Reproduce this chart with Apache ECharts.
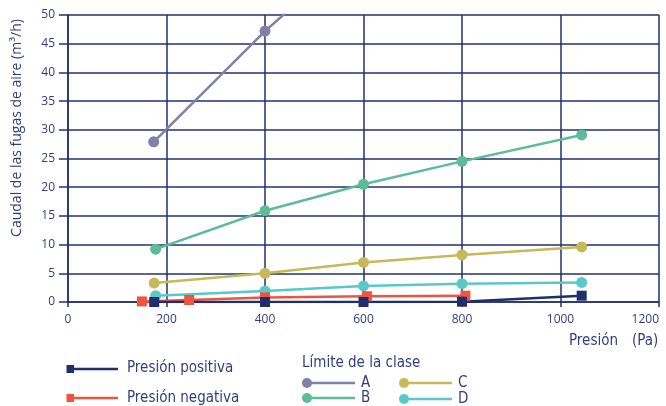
<!DOCTYPE html>
<html>
<head>
<meta charset="utf-8">
<script src="https://cdn.jsdelivr.net/npm/echarts@6/dist/echarts.min.js"></script>
<style>
  html, body { margin: 0; padding: 0; background: #ffffff; }
  #chart { width: 666px; height: 406px; }
</style>
</head>
<body>
<div id="chart"></div>
<script>
// Air leakage flow (m³/h) against test pressure (Pa)
const xTicks = [0, 200, 400, 600, 800, 1000, 1200];
const yTicks = [0, 5, 10, 15, 20, 25, 30, 35, 40, 45, 50];

// Class limit curves
const classA = [[174, 27.9], [400, 47.2], [600, 62.3]];
const classB = [[178, 9.2], [400, 15.9], [600, 20.5], [800, 24.5], [1043, 29.1]];
const classC = [[175, 3.3], [400, 5.0], [600, 6.9], [800, 8.2], [1043, 9.6]];
const classD = [[178, 1.1], [400, 1.9], [600, 2.8], [800, 3.2], [1043, 3.4]];

// Measured leakage
const presionPositiva = [[175, 0], [400, 0], [600, 0], [800, 0.05], [1043, 1.1]];
const presionNegativa = [[150, 0.1], [246, 0.35], [400, 0.8], [607, 1.0], [807, 1.1]];

const NAVY = '#22306b';
const TEXT = '#2f3f80';
const C_POS = '#1f2f6e';
const C_NEG = '#f0533f';
const C_A = '#8080a8';
const C_B = '#5cbc97';
const C_C = '#c6b95a';
const C_D = '#5ac8c8';
const FONT = '"Open Sans", "Noto Sans", sans-serif';
const LEG_FONT = '"DejaVu Sans Condensed", "DejaVu Sans", sans-serif';

function lineSeries(name, data, color, symbol, size) {
  return {
    name: name,
    type: 'line',
    data: data,
    clip: true,
    symbol: symbol,
    symbolSize: size,
    lineStyle: { color: color, width: 2.5 },
    itemStyle: { color: color },
    emphasis: { disabled: true },
    animation: false
  };
}

// Legend swatch: marker + short line
function swatch(x, y, len, color, kind) {
  const els = [{
    type: 'line',
    shape: { x1: x, y1: y, x2: x + len, y2: y },
    style: { stroke: color, lineWidth: 2.5 }
  }];
  if (kind === 'rect') {
    els.push({ type: 'rect', shape: { x: x - 3.5, y: y - 4, width: 7.5, height: 8 }, style: { fill: color } });
  } else {
    els.push({ type: 'circle', shape: { cx: x, cy: y, r: 5 }, style: { fill: color } });
  }
  return els;
}

function label(text, x, y, size) {
  return {
    type: 'text',
    x: x, y: y,
    style: {
      text: text, fill: TEXT, font: size + 'px ' + LEG_FONT,
      textAlign: 'left', textVerticalAlign: 'middle'
    }
  };
}

const chart = echarts.init(document.getElementById('chart'), null, { renderer: 'canvas' });

chart.setOption({
  animation: false,
  grid: {
    left: 68, right: 7, top: 15, bottom: 104,
    containLabel: false,
    outerBoundsMode: 'none'
  },
  xAxis: {
    type: 'value',
    min: xTicks[0],
    max: xTicks[xTicks.length - 1],
    interval: 200,
    axisLine: { show: true, lineStyle: { color: NAVY, width: 1.5 } },
    axisTick: { show: true, length: 5, lineStyle: { color: NAVY, width: 1.5 } },
    axisLabel: {
      color: TEXT, fontSize: 12, fontFamily: FONT, margin: 12,
      alignMaxLabel: 'right',
      formatter: function (v) { return String(v); }
    },
    splitLine: { show: true, lineStyle: { color: NAVY, width: 1.5 } }
  },
  yAxis: {
    type: 'value',
    min: yTicks[0],
    max: yTicks[yTicks.length - 1],
    interval: 5,
    axisLine: { show: true, lineStyle: { color: NAVY, width: 1.5 } },
    axisTick: { show: true, length: 9, lineStyle: { color: NAVY, width: 1.5 } },
    axisLabel: { color: TEXT, fontSize: 12, fontFamily: FONT, margin: 13 },
    splitLine: { show: true, lineStyle: { color: NAVY, width: 1.5 } }
  },
  series: [
    lineSeries('A', classA, C_A, 'circle', 11),
    lineSeries('B', classB, C_B, 'circle', 11),
    lineSeries('C', classC, C_C, 'circle', 11),
    lineSeries('D', classD, C_D, 'circle', 11),
    lineSeries('Presión negativa', presionNegativa, C_NEG, 'rect', 10),
    lineSeries('Presión positiva', presionPositiva, C_POS, 'rect', 10)
  ],
  graphic: [
    {
      type: 'text',
      x: 17, y: 128,
      rotation: Math.PI / 2,
      style: {
        text: 'Caudal de las fugas de aire (m³/h)',
        fill: TEXT, font: '14px ' + FONT,
        textAlign: 'center', textVerticalAlign: 'middle'
      }
    },
    label('Presión', 569, 341, 15),
    label('(Pa)', 632, 341, 15),
    ...swatch(70, 369, 48, C_POS, 'rect'),
    label('Presión positiva', 127, 368, 15),
    ...swatch(70, 398, 48, C_NEG, 'rect'),
    label('Presión negativa', 127, 398, 15),
    label('Límite de la clase', 302, 363, 15),
    ...swatch(307, 383, 48, C_A, 'circle'),
    label('A', 361, 383, 15),
    ...swatch(307, 398, 48, C_B, 'circle'),
    label('B', 361, 398, 15),
    ...swatch(404, 383, 48, C_C, 'circle'),
    label('C', 458, 383, 15),
    ...swatch(404, 399, 48, C_D, 'circle'),
    label('D', 458, 399, 15)
  ]
});
</script>
</body>
</html>
